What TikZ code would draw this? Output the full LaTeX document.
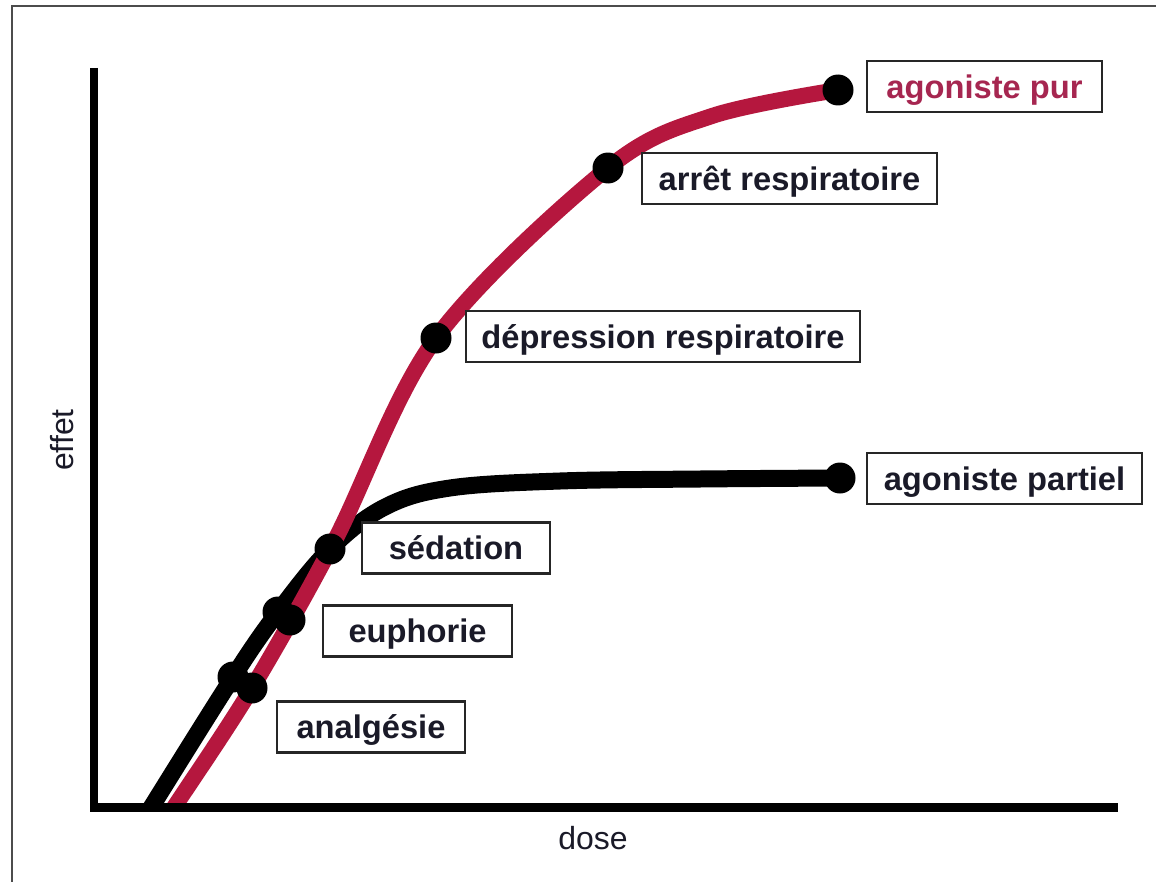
\documentclass[tikz,border=0pt]{standalone}
\usepackage{fontspec}
\setmainfont{Liberation Sans}
\definecolor{curvered}{HTML}{B5173E}
\definecolor{textred}{HTML}{A62650}
\definecolor{labelink}{HTML}{1A1A28}
\begin{document}
\begin{tikzpicture}[x=0.02cm,y=-0.02cm,
  lab/.style={draw=black!85, line width=1.3pt, fill=white, font=\fontsize{18.6}{20}\selectfont\bfseries,
    text=labelink, minimum height=51*0.02cm, inner sep=0pt, text height=17.2pt, text depth=3.9pt, anchor=center},
  axlab/.style={font=\fontsize{18.2}{20}\selectfont, text=labelink, inner sep=0pt},
  dot/.style={circle, fill=black, minimum size=31*0.02cm, inner sep=0pt},
  redcurve/.style={draw=curvered, line width=16*0.02cm},
  blkcurve/.style={draw=black, line width=17*0.02cm}]
\useasboundingbox (0,0) rectangle (1156,882);
\clip (0,0) rectangle (1156,882);
% outer frame
\draw[draw=black!70, line width=1.6pt] (12,6) rectangle (1170,900);
% curves
\begin{scope}
\clip (0,0) rectangle (1156,806);
\draw[blkcurve] plot[smooth, tension=0.6] coordinates {(140,826) (152,806) (233,677) (278,612) (330,549) (385,507) (450,488) (560,481) (700,479) (840,478)};
\draw[redcurve] plot[smooth, tension=0.55] coordinates {(162,826) (175,806) (252,688) (335,540) (436,338) (608,168) (712,116) (838,90)};
\end{scope}
% axes
\coordinate (origin) at (94,807);
\coordinate (ytop) at (94,68);
\coordinate (xend) at (1118,807);
\draw[line width=8*0.02cm, line cap=butt] (ytop) -- (origin);
\draw[line width=9*0.02cm, line cap=butt] (90,807) -- (xend);
\node[axlab, rotate=90] (effet) at (62,440) {effet};
\node[axlab] (dose) at (593,838) {dose};
% dots
\node[dot] (dpur) at (838,90) {};
\node[dot] (darret) at (608,168) {};
\node[dot] (ddep) at (436,338) {};
\node[dot] (dpart) at (840,478) {};
\node[dot] (dsed) at (330,549) {};
\node[dot] (deuphB) at (278,612) {};
\node[dot] (deuphR) at (290,620) {};
\node[dot] (danalB) at (233,677) {};
\node[dot] (danalR) at (252,688) {};
% labels
\node[lab, text=textred, minimum width=235*0.02cm] (lpur) at (984.5,86.5) {agoniste pur};
\node[lab, minimum width=295*0.02cm] (larret) at (789.5,178.5) {arrêt respiratoire};
\node[lab, minimum width=394*0.02cm] (ldep) at (663,336.5) {dépression respiratoire};
\node[lab, minimum width=275*0.02cm] (lpart) at (1004.5,478.5) {agoniste partiel};
\node[lab, minimum width=188*0.02cm] (lsed) at (456,548) {sédation};
\node[lab, minimum width=189*0.02cm] (leuph) at (417.5,631) {euphorie};
\node[lab, minimum width=188*0.02cm] (lanal) at (371,727) {analgésie};
\end{tikzpicture}
\end{document}
